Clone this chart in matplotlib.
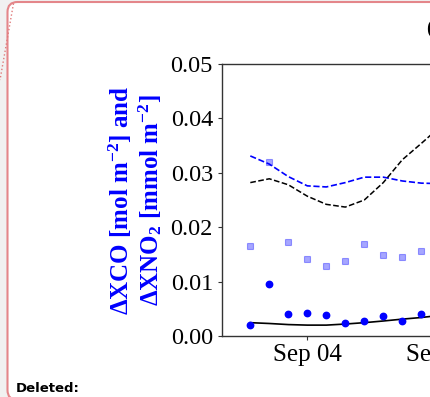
import matplotlib
matplotlib.use("Agg")
import matplotlib.pyplot as plt
import matplotlib.dates as mdates
from matplotlib.patches import FancyBboxPatch
import datetime as dt

# ---- data ----
point_dates = [dt.datetime(2021, 9, d) for d in range(1, 11)]
xco_points = [0.0020, 0.0095, 0.0041, 0.0043, 0.0039, 0.0023, 0.0028, 0.0036, 0.0027, 0.0041]
xno2_points = [0.0165, 0.0320, 0.0172, 0.0141, 0.0128, 0.0137, 0.0169, 0.0149, 0.0145, 0.0156]

line_dates = [dt.datetime(2021, 9, d) for d in range(1, 12)]
xno2_fit = [0.0331, 0.0316, 0.0293, 0.0276, 0.0274, 0.0282, 0.0292, 0.0292, 0.0285, 0.0281, 0.0280]
black_dashed = [0.0282, 0.0289, 0.0278, 0.0257, 0.0242, 0.0237, 0.0250, 0.0282, 0.0324, 0.0354, 0.0385]
xco_fit = [0.00245, 0.0023, 0.0021, 0.0020, 0.0020, 0.0022, 0.00245, 0.00276, 0.0031, 0.0034, 0.0038]

yticks = [0.00, 0.01, 0.02, 0.03, 0.04, 0.05]
ylabel_text = "ΔXCO [mol m$^{-2}$] and\nΔXNO$_2$ [mmol m$^{-2}$]"
title_text = "(c)"
note_text = "Deleted:"

# ---- style ----
plt.rcParams['font.family'] = ['Liberation Serif', 'DejaVu Serif']
plt.rcParams['mathtext.fontset'] = 'custom'
plt.rcParams['mathtext.rm'] = 'Liberation Serif:bold'
plt.rcParams['mathtext.bf'] = 'Liberation Serif:bold'
plt.rcParams['mathtext.it'] = 'Liberation Serif:italic:bold'
plt.rcParams['mathtext.default'] = 'bf'

W, H = 431, 397
fig = plt.figure(figsize=(W / 100, H / 100), dpi=100)
fig.patch.set_facecolor('#f1f1f1')

# background page axes in pixel units
bg = fig.add_axes([0, 0, 1, 1], zorder=0)
bg.set_xlim(0, W)
bg.set_ylim(H, 0)
bg.axis('off')
box = FancyBboxPatch((7.5, 2), 445, 398, boxstyle="round,pad=0,rounding_size=10",
                     facecolor='white', edgecolor='#e4868a', linewidth=1.5)
bg.add_patch(box)
bg.plot([13.5, 0], [3.5, 80], ls=':', color='#e07a7a', lw=1.0)
bg.text(16, 392, note_text, fontsize=9.5, fontweight='bold', family='DejaVu Sans',
        color='black', ha='left', va='baseline')
bg.text(426.5, 34, title_text, fontsize=15, fontweight='bold', color='black',
        ha='left', va='baseline')

# main axes
px_per_day = 19.0
x0 = mdates.date2num(dt.datetime(2021, 9, 1)) - 1.49
x1 = x0 + 21.5
left_px, top_px, bottom_px = 222, 64, 336
width_px = (x1 - x0) * px_per_day
ax = fig.add_axes([left_px / W, 1 - bottom_px / H, width_px / W, (bottom_px - top_px) / H], zorder=1)
ax.set_facecolor('none')

ax.plot(line_dates, xno2_fit, ls='--', color='blue', lw=1.2)
ax.plot(line_dates, black_dashed, ls='--', color='black', lw=1.1)
ax.plot(line_dates, xco_fit, ls='-', color='black', lw=1.2)
ax.plot(point_dates, xno2_points, ls='none', marker='s', ms=4.2, color='blue', alpha=0.35, mew=0.8)
ax.plot(point_dates, xco_points, ls='none', marker='o', ms=4.6, color='blue')

ax.set_xlim(x0, x1)
ax.set_ylim(0, 0.05)
ax.set_yticks(yticks)
ax.yaxis.set_major_formatter(matplotlib.ticker.FormatStrFormatter('%.2f'))
ax.xaxis.set_major_locator(mdates.DayLocator(bymonthday=[4, 11, 18, 25]))
ax.xaxis.set_major_formatter(mdates.DateFormatter('%b %d'))

for s in ax.spines.values():
    s.set_color('#333333')
    s.set_linewidth(1.0)
ax.tick_params(axis='both', direction='out', length=3, width=0.8, color='#333333')
ax.tick_params(axis='y', labelsize=17.5, pad=3.5)
ax.tick_params(axis='x', labelsize=18, pad=3)

ax.set_ylabel(ylabel_text, color='blue', fontsize=18, fontweight='bold',
              labelpad=5, linespacing=1.1, multialignment='center')

fig.savefig('out.png', dpi=100, facecolor=fig.get_facecolor())
